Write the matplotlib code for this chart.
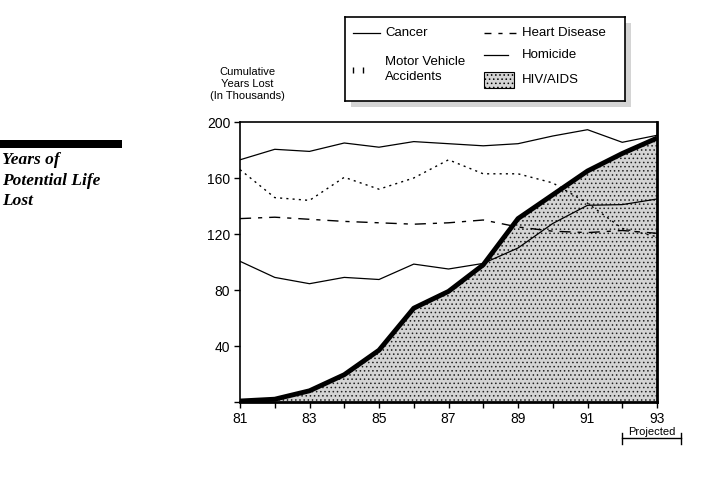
import matplotlib
matplotlib.use("Agg")
from matplotlib import pyplot as plt
from matplotlib.patches import Rectangle
from matplotlib.lines import Line2D

plt.rcParams['font.family'] = ['Liberation Sans', 'DejaVu Sans']
plt.rcParams['hatch.linewidth'] = 0.6

years = [81, 82, 83, 84, 85, 86, 87, 88, 89, 90, 91, 92, 93]
cancer = [173, 180.5, 179, 185, 182, 186, 184.5, 183, 184.5, 190, 194.5, 185.5, 190.5]
motor_vehicle = [166, 146, 144, 160.5, 152, 160, 173, 163, 163, 156.5, 142, 124, 118]
heart_disease = [131, 132, 130.5, 129, 128, 127, 128, 130, 125, 122, 121, 122.5, 120.5]
homicide = [100.5, 89, 84.5, 89, 87.5, 98.5, 95, 99, 110, 127.5, 140.5, 141, 145]
hiv_aids = [0.7, 2, 8, 19.5, 37, 67, 79, 98, 131, 148, 165, 177.5, 188.5]

year_labels = ["81", "", "83", "", "85", "", "87", "", "89", "", "91", "", "93"]
y_ticks = [0, 40, 80, 120, 160, 200]
y_labels = ["", "40", "80", "120", "160", "200"]

W, H = 718, 486
fig = plt.figure(figsize=(W / 100, H / 100), dpi=100)

def fx(px):
	return px / W

def fy(py):
	return 1 - py / H

ax = fig.add_axes([fx(240), fy(402), fx(657) - fx(240), fy(122) - fy(402)])

ax.fill_between(years, 0, hiv_aids, facecolor="#d4d4d4", edgecolor="#222222", hatch="....", linewidth=0, zorder=1)
ax.plot(years, cancer, color="black", lw=0.9, zorder=3)
ax.plot(years, motor_vehicle, color="black", lw=1.0, linestyle=(0, (1.5, 3)), zorder=3)
ax.plot(years, heart_disease, color="black", lw=1.0, linestyle=(0, (8, 5, 3, 5)), zorder=3)
ax.plot(years, homicide, color="black", lw=0.9, zorder=3)
ax.plot(years, hiv_aids, color="black", lw=3.5, solid_capstyle="butt", zorder=4)

ax.set_xlim(81, 93)
ax.set_ylim(0, 200)
ax.set_xticks(years)
ax.set_xticklabels(year_labels)
ax.set_yticks(y_ticks)
ax.set_yticklabels(y_labels)
ax.tick_params(direction="out", length=4, width=1, labelsize=10, pad=3)
for s in ax.spines.values():
	s.set_linewidth(1.2)
ax.spines["bottom"].set_linewidth(2)
ax.spines["right"].set_linewidth(2)

# y axis title
fig.text(fx(247), fy(67), "Cumulative\nYears Lost\n(In Thousands)", ha="center", va="top",
		fontsize=8, linespacing=1.25)

# projected bracket under 92-93
xt = ax.get_xaxis_transform()
ax.plot([92, 93.68], [-0.13, -0.13], color="black", lw=1, transform=xt, clip_on=False)
ax.plot([92, 92], [-0.11, -0.15], color="black", lw=1, transform=xt, clip_on=False)
ax.plot([93.68, 93.68], [-0.11, -0.15], color="black", lw=1, transform=xt, clip_on=False)
ax.text(92.84, -0.125, "Projected", ha="center", va="bottom", fontsize=8, transform=xt)

# left side title
fig.add_artist(Rectangle((0, fy(148)), fx(122), fy(140) - fy(148), transform=fig.transFigure,
		facecolor="black", edgecolor="none"))
fig.text(fx(2), fy(152), "Years of\nPotential Life\nLost", ha="left", va="top", fontsize=12.5,
		fontfamily="Liberation Serif", fontweight="bold", fontstyle="italic", linespacing=1.38)

# legend with shadow
fig.add_artist(Rectangle((fx(351), fy(107)), fx(280), fy(23) - fy(107), transform=fig.transFigure,
		facecolor="#d4d4d4", edgecolor="none", hatch="....", zorder=1))
lg = fig.add_axes([fx(345), fy(101), fx(280), fy(17) - fy(101)])
lg.set_zorder(2)
lg.set_xlim(0, 280)
lg.set_ylim(84, 0)
lg.set_xticks([])
lg.set_yticks([])
for s in lg.spines.values():
	s.set_linewidth(1.2)
lg.add_line(Line2D([8, 35], [16, 16], color="black", lw=0.9))
lg.text(40, 16, "Cancer", va="center", fontsize=9.5)
lg.add_line(Line2D([8, 18], [53, 53], color="black", lw=0, marker="|", markersize=4, markeredgewidth=1))
lg.text(40, 45, "Motor Vehicle", va="center", fontsize=9.5)
lg.text(40, 60, "Accidents", va="center", fontsize=9.5)
lg.add_line(Line2D([139, 173], [16, 16], color="black", lw=1.0, linestyle=(0, (5, 5, 3, 5))))
lg.text(177, 16, "Heart Disease", va="center", fontsize=9.5)
lg.add_line(Line2D([139, 163], [38, 38], color="black", lw=0.9))
lg.text(177, 38, "Homicide", va="center", fontsize=9.5)
lg.add_patch(Rectangle((139, 55), 30, 16, facecolor="#d4d4d4", edgecolor="black", hatch="....", lw=0.8))
lg.text(177, 63, "HIV/AIDS", va="center", fontsize=9.5)

fig.savefig("out.png", dpi=100)
